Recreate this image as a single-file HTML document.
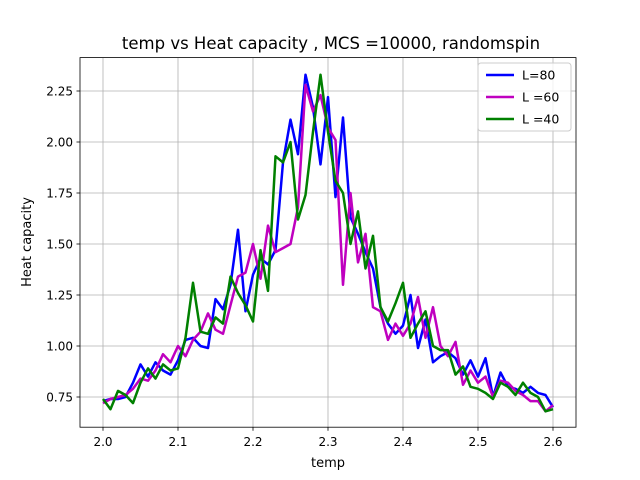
<!DOCTYPE html>
<html><head><meta charset="utf-8"><style>
body{margin:0;background:#fff}
svg{display:block;font-family:"DejaVu Sans","Liberation Sans",sans-serif}
</style></head><body>
<svg id="chart" width="640" height="480">
<rect width="640" height="480" fill="#fff"/>
<g id="grid"></g>
<g id="series"></g>
<rect x="80" y="57.6" width="496" height="369.6" fill="none" stroke="#000" stroke-width="0.8"/>
<g id="ticks"></g>
<text x="331" y="49" text-anchor="middle" font-size="16.5">temp vs Heat capacity , MCS =10000, randomspin</text>
<text x="328" y="467" text-anchor="middle" font-size="13">temp</text>
<text transform="translate(31,242) rotate(-90)" text-anchor="middle" font-size="13">Heat capacity</text>
<g>
<rect x="478" y="63" width="93" height="68" rx="3" fill="#fff" fill-opacity="0.8" stroke="#ccc"/>
<g id="legend-items"></g>
</g>
</svg>
<script>
const temps=[];for(let i=0;i<=60;i++)temps.push(+(2+i*0.01).toFixed(2));
const seriesNames=["L=80","L =60","L =40"];
const L80=[0.73,0.74,0.74,0.75,0.82,0.91,0.85,0.92,0.88,0.86,0.93,1.03,1.04,1.00,0.99,1.23,1.18,1.30,1.57,1.17,1.35,1.43,1.40,1.47,1.90,2.11,1.94,2.33,2.17,1.89,2.22,1.73,2.12,1.63,1.55,1.46,1.38,1.19,1.11,1.06,1.10,1.25,0.99,1.13,0.92,0.95,0.97,0.94,0.86,0.93,0.85,0.94,0.75,0.87,0.80,0.79,0.77,0.80,0.77,0.76,0.70];
const L60=[0.72,0.74,0.75,0.76,0.79,0.84,0.83,0.88,0.96,0.92,1.00,0.95,1.03,1.07,1.16,1.08,1.06,1.20,1.34,1.36,1.50,1.33,1.59,1.46,1.48,1.50,1.68,2.28,2.15,2.23,2.07,2.01,1.30,1.75,1.41,1.55,1.19,1.17,1.03,1.11,1.05,1.11,1.24,1.04,1.19,1.00,0.95,1.02,0.81,0.88,0.82,0.85,0.75,0.83,0.82,0.78,0.76,0.73,0.73,0.68,0.71];
const L40=[0.74,0.69,0.78,0.76,0.72,0.82,0.89,0.84,0.91,0.88,0.89,1.04,1.31,1.07,1.06,1.14,1.11,1.34,1.26,1.20,1.12,1.47,1.27,1.93,1.90,2.00,1.62,1.74,2.05,2.33,2.05,1.81,1.75,1.50,1.66,1.38,1.54,1.19,1.12,1.21,1.31,1.04,1.11,1.17,1.00,0.98,0.98,0.86,0.90,0.80,0.79,0.77,0.74,0.82,0.80,0.76,0.82,0.77,0.75,0.68,0.69];
const xTicks=[2.0,2.1,2.2,2.3,2.4,2.5,2.6];
const yTicks=[0.75,1.00,1.25,1.50,1.75,2.00,2.25];
const colors=["#0000ff","#bf00bf","#008000"];
const NS="http://www.w3.org/2000/svg";
function X(v){return 103+(v-2.0)*750;}
function Y(v){return 397-(v-0.75)*204;}
const grid=document.getElementById('grid'),ticks=document.getElementById('ticks'),ser=document.getElementById('series'),leg=document.getElementById('legend-items');
function mk(tag,attrs,parent){const e=document.createElementNS(NS,tag);for(const k in attrs)e.setAttribute(k,attrs[k]);parent.appendChild(e);return e;}
xTicks.forEach(t=>{
 const x=X(t);
 const g=mk('line',{x1:x,x2:x,y1:57.6,y2:427.2,stroke:'#b0b0b0','stroke-width':0.8},grid);
 
 mk('line',{x1:x,x2:x,y1:427.2,y2:430.7,stroke:'#000','stroke-width':0.8},ticks);
 const tx=mk('text',{x:x,y:446,'text-anchor':'middle','font-size':12},ticks);tx.textContent=t.toFixed(1);
 
});
yTicks.forEach(t=>{
 const y=Y(t);
 const g=mk('line',{x1:80,x2:576,y1:y,y2:y,stroke:'#b0b0b0','stroke-width':0.8},grid);
 
 mk('line',{x1:76.5,x2:80,y1:y,y2:y,stroke:'#000','stroke-width':0.8},ticks);
 const tx=mk('text',{x:73,y:y+4.5,'text-anchor':'end','font-size':12},ticks);tx.textContent=t.toFixed(2);
 
});
[L80,L60,L40].forEach((d,i)=>{
 const pts=d.map((v,j)=>X(temps[j]).toFixed(1)+','+Y(v).toFixed(1)).join(' ');
 const p=mk('polyline',{points:pts,fill:'none',stroke:colors[i],'stroke-width':2.5,'stroke-linejoin':'round'},ser);
 
 const ly=75+i*22;
 mk('line',{x1:486,x2:514,y1:ly,y2:ly,stroke:colors[i],'stroke-width':2.5},leg);
 const t=mk('text',{x:522,y:ly+4.5,'font-size':12.5},leg);t.textContent=seriesNames[i];
 
});
</script>
</body></html>
